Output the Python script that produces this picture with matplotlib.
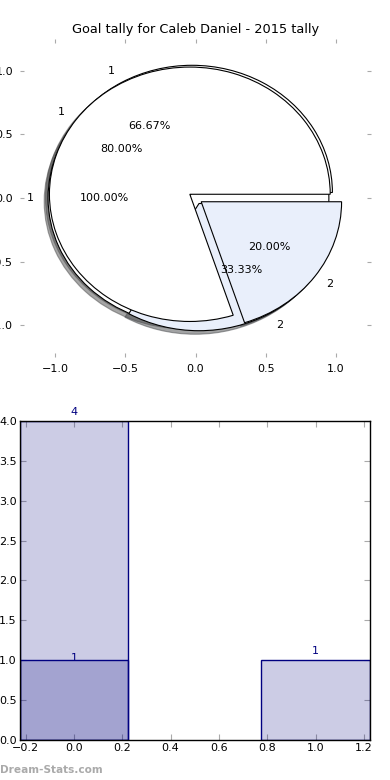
import matplotlib
matplotlib.use("Agg")
import matplotlib.pyplot as plt
import numpy as np

# ---- data ----
title = "Goal tally for Caleb Daniel - 2015 tally"
pie_a_values = [1]
pie_a_labels = ["1"]
pie_c_values = [2, 1]
pie_c_labels = ["1", "2"]
pie_b_values = [4, 1]
pie_b_labels = ["1", "2"]
pie_colors = ["white", "#E9EFFB"]

bar_x = [0, 1]
bar_series1 = [4, 1]
bar_x2 = [0]
bar_series2 = [1]
bar_ticks_x = [-0.2, 0.0, 0.2, 0.4, 0.6, 0.8, 1.0, 1.2]
bar_ticks_y = [0.0, 0.5, 1.0, 1.5, 2.0, 2.5, 3.0, 3.5, 4.0]

plt.rcParams['font.family'] = ['DejaVu Sans']
fig = plt.figure(figsize=(3.9, 7.8), dpi=100)

tick_col = '#aaaaaa'

# ---- top pie axes ----
ax1 = fig.add_axes([0.0513, 0.5423, 0.9, 0.4077])
pies = [(pie_a_values, pie_a_labels), (pie_c_values, pie_c_labels), (pie_b_values, pie_b_labels)]
for vals, labs in pies:
    ax1.pie(vals, labels=labs, colors=pie_colors[:len(vals)], explode=[0.05] * len(vals),
            autopct='%1.2f%%', shadow=True, normalize=True,
            wedgeprops=dict(edgecolor='black', linewidth=0.8),
            textprops=dict(fontsize=8, zorder=10), frame=True)
ax1.set_aspect('auto')
ax1.set_xlim(-1.25, 1.25)
ax1.set_ylim(-1.25, 1.25)
for s in ax1.spines.values():
    s.set_visible(False)
ax1.set_xticks([-1.0, -0.5, 0.0, 0.5, 1.0])
ax1.set_yticks([-1.0, -0.5, 0.0, 0.5, 1.0])
ax1.set_xticklabels(['\u22121.0', '\u22120.5', '0.0', '0.5', '1.0'])
ax1.set_yticklabels(['\u22121.0', '\u22120.5', '0.0', '0.5', '1.0'])
ax1.tick_params(direction='in', length=3, color=tick_col, labelsize=8,
                top=True, right=True, pad=5)
ax1.set_title(title, fontsize=9.3, pad=4)

# ---- bottom bar axes ----
ax2 = fig.add_axes([0.05, 0.0513, 0.899, 0.409])
ax2.set_axisbelow(True)
w = 0.45
ax2.bar(bar_x, bar_series1, width=w, color='navy', alpha=0.2, edgecolor='none')
ax2.bar(bar_x, bar_series1, width=w, facecolor='none', edgecolor='navy', linewidth=1)
ax2.bar(bar_x2, bar_series2, width=w, color='navy', alpha=0.2, edgecolor='none')
ax2.bar(bar_x2, bar_series2, width=w, facecolor='none', edgecolor='navy', linewidth=1)
for x, h in zip(bar_x, bar_series1):
    ax2.text(x, h + 0.05, str(h), ha='center', va='bottom', color='navy', fontsize=8)
for x, h in zip(bar_x2, bar_series2):
    ax2.text(x, h + 0.03, str(h), ha='center', va='center', color='navy', fontsize=8)
ax2.set_xlim(-0.225, 1.225)
ax2.set_ylim(0, 4)
ax2.set_xticks(bar_ticks_x)
ax2.set_yticks(bar_ticks_y)
ax2.set_xticklabels([('\u2212' if t < 0 else '') + f"{abs(t):.1f}" for t in bar_ticks_x])
ax2.set_yticklabels([f"{t:.1f}" for t in bar_ticks_y])
ax2.tick_params(direction='in', length=4, color=tick_col, labelsize=8, top=True, right=True, pad=2)
for s in ax2.spines.values():
    s.set_linewidth(1)
    s.set_zorder(3)

fig.text(0.0, 0.0125, "Dream-Stats.com", color='#aaaaaa', fontsize=7.6, fontweight='bold',
         ha='left', va='center')

fig.savefig("out.png", dpi=100)
